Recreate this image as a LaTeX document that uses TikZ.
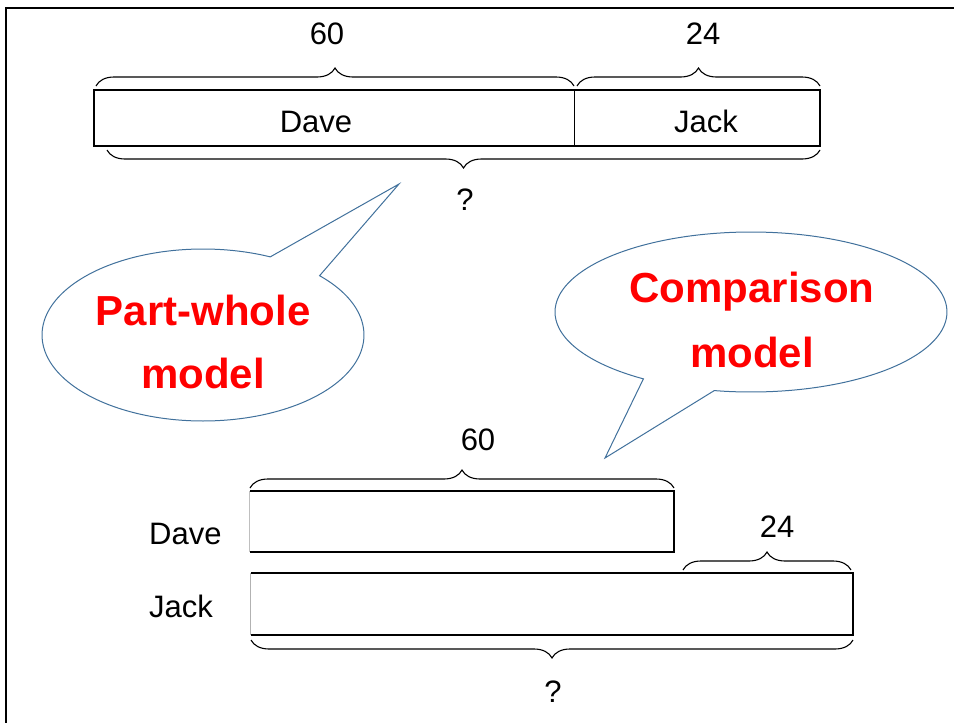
\documentclass[tikz,border=0pt]{standalone}
\usepackage{fontspec}
\setmainfont{Liberation Sans}
\usetikzlibrary{decorations.pathreplacing}
\definecolor{callblue}{HTML}{41719C}
\definecolor{callred}{HTML}{FF0000}
\tikzset{
  bar/.style={draw=none, inner sep=0pt},
  barline/.style={line width=1.6pt},
  lbl/.style={inner sep=0pt, font=\fontsize{31}{36}\selectfont},
  bracedeco/.style={decorate, decoration={brace, amplitude=18pt}, line width=1.1pt},
  bracedown/.style={decorate, decoration={brace, amplitude=18pt, mirror}, line width=1.1pt},
  callout/.style={draw=callblue, line width=1pt, fill=white},
  calltext/.style={inner sep=0pt, anchor=base, text=callred, font=\fontsize{42}{63}\selectfont\bfseries},
}
\begin{document}
\begin{tikzpicture}[x=1pt, y=-1pt]
\useasboundingbox (0,0) rectangle (954,723);
\draw[line width=2.6pt] (6,723) -- (6,8) -- (954,8);

% ---------- top: part-whole ----------
\node[bar, minimum width=480pt, minimum height=56pt] (tdave) at (334,118) {};
\node[bar, minimum width=246pt, minimum height=56pt] (tjack) at (697,118) {};
\draw[barline] (tdave.north west) rectangle (tjack.south east);
\draw[line width=1.2pt] (tdave.north east) -- (tdave.south east);
\node[lbl, anchor=base] (tdavelbl) at (316,132) {Dave};
\node[lbl, anchor=base] (tjacklbl) at (706,132) {Jack};

\coordinate (tb1) at (96,86);
\coordinate (tb2) at (574,86);
\coordinate (tb3) at (577,86);
\coordinate (tb4) at (820,86);
\draw[bracedeco] (tb1) -- (tb2);
\draw[bracedeco] (tb3) -- (tb4);
\node[lbl] (t60) at (327,34) {60};
\node[lbl] (t24) at (703,34) {24};

\coordinate (tb5) at (107,150);
\coordinate (tb6) at (820,150);
\draw[bracedown] (tb5) -- (tb6);
\node[lbl] (tq) at (465,200) {?};

% ---------- callouts ----------
\coordinate (pwtip) at (399,184);
\draw[callout] plot[domain=-43.6:294.7, samples=120, smooth] ({203+161*cos(\x)}, {335+86*sin(\x)}) -- (pwtip) -- cycle;
\node[calltext] (pw1) at (203,325) {Part-whole};
\node[calltext] (pw2) at (203,388) {model};

\coordinate (cmtip) at (605,458);
\draw[callout] plot[domain=123.3:460.8, samples=120, smooth] ({751+196*cos(\x)}, {312+80*sin(\x)}) -- (cmtip) -- cycle;
\node[calltext] (cm1) at (752,302) {Comparison};
\node[calltext] (cm2) at (752,367) {model};

% ---------- bottom: comparison ----------
\node[bar, minimum width=424pt, minimum height=61pt] (bdave) at (462,521.5) {};
\node[bar, minimum width=602pt, minimum height=62pt] (bjack) at (552,604) {};
\draw[barline] (bdave.south west) -- (bdave.south east) -- (bdave.north east) -- (bdave.north west);
\draw[gray!50, line width=0.8pt] (bdave.north west) -- (bdave.south west);
\draw[barline] (bjack.north west) -- (bjack.north east) -- (bjack.south east) -- (bjack.south west);
\draw[gray!60, line width=0.9pt] (bjack.north west) -- (bjack.south west);

\node[lbl, anchor=west] (ldave) at (149,534) {Dave};
\node[lbl, anchor=west] (ljack) at (149,606) {Jack};

\coordinate (bb1) at (250,488);
\coordinate (bb2) at (674,488);
\draw[bracedeco] (bb1) -- (bb2);
\node[lbl] (b60) at (478,440) {60};

\coordinate (bb3) at (683,570);
\coordinate (bb4) at (851,570);
\draw[bracedeco] (bb3) -- (bb4);
\node[lbl] (b24) at (777,527) {24};

\coordinate (bb5) at (251,640);
\coordinate (bb6) at (853,640);
\draw[bracedown] (bb5) -- (bb6);
\node[lbl] (bq) at (553,692) {?};
\end{tikzpicture}
\end{document}
